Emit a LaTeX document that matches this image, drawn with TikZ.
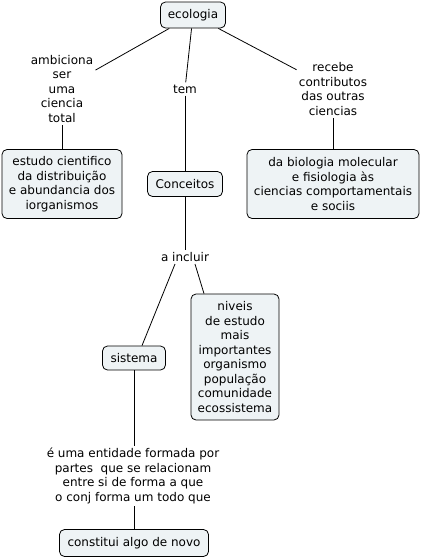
\documentclass[tikz,border=0pt]{standalone}
\usepackage{fontspec}
\setmainfont{DejaVu Sans}
\tikzset{
  concept/.style = {draw, rounded corners = 5pt, fill = boxfill, align = center,
    inner sep = 2pt, font = \fontsize{12}{14.5}\selectfont},
  linkword/.style = {align = center, inner sep = 2pt, font = \fontsize{12}{14.5}\selectfont}
}
\definecolor{boxfill}{RGB}{238,243,245}
\begin{document}
\begin{tikzpicture}[x = 1pt, y = -1pt, line width = 0.8pt]
\useasboundingbox (0,0) rectangle (421,560);
% concepts
\node[concept, minimum width = 65pt, minimum height = 26pt] at (193,15) (eco) {ecologia};
\node[concept, minimum width = 120pt, minimum height = 69pt] at (62,184) (est) {estudo cientifico\\da distribuição\\e abundancia dos\\iorganismos};
\node[concept, minimum width = 75pt, minimum height = 25pt] at (185,184) (con) {Conceitos};
\node[concept, minimum width = 172pt, minimum height = 69pt] at (333,184) (bio) {da biologia molecular\\e fisiologia às\\ciencias comportamentais\\e sociis};
\node[concept, minimum width = 63pt, minimum height = 24pt] at (134,358) (sis) {sistema};
\node[concept, minimum width = 88pt, minimum height = 126pt] at (235,357) (niv) {niveis\\de estudo\\mais\\importantes\\organismo\\população\\comunidade\\ecossistema};
\node[concept, minimum width = 149pt, minimum height = 27pt] at (134,543) (novo) {constitui algo de novo};
% linking words
\node[linkword] at (62,89) (amb) {ambiciona\\ser\\uma\\ciencia\\total};
\node[linkword] at (185,89) (tem) {tem};
\node[linkword] at (333,89) (rec) {recebe\\contributos\\das outras\\ciencias};
\node[linkword] at (185,257) (inc) {a incluir};
\node[linkword] at (133,476) (ent) {é uma entidade formada por\\partes\ \ que se relacionam\\entre si de forma a que\\o conj forma um todo que};
% connectors
\draw (eco) -- (amb);
\draw (amb) -- (est);
\draw (eco) -- (tem);
\draw (tem) -- (con);
\draw (eco) -- (rec);
\draw (rec) -- (bio);
\draw (con) -- (inc);
\draw ([xshift = -10]inc.south) -- ([xshift = 8]sis.north);
\draw ([xshift = 10]inc.south) -- ([xshift = -31]niv.north);
\draw (sis) -- (sis |- ent.north);
\draw (sis |- ent.south) -- (novo);
\end{tikzpicture}
\end{document}
